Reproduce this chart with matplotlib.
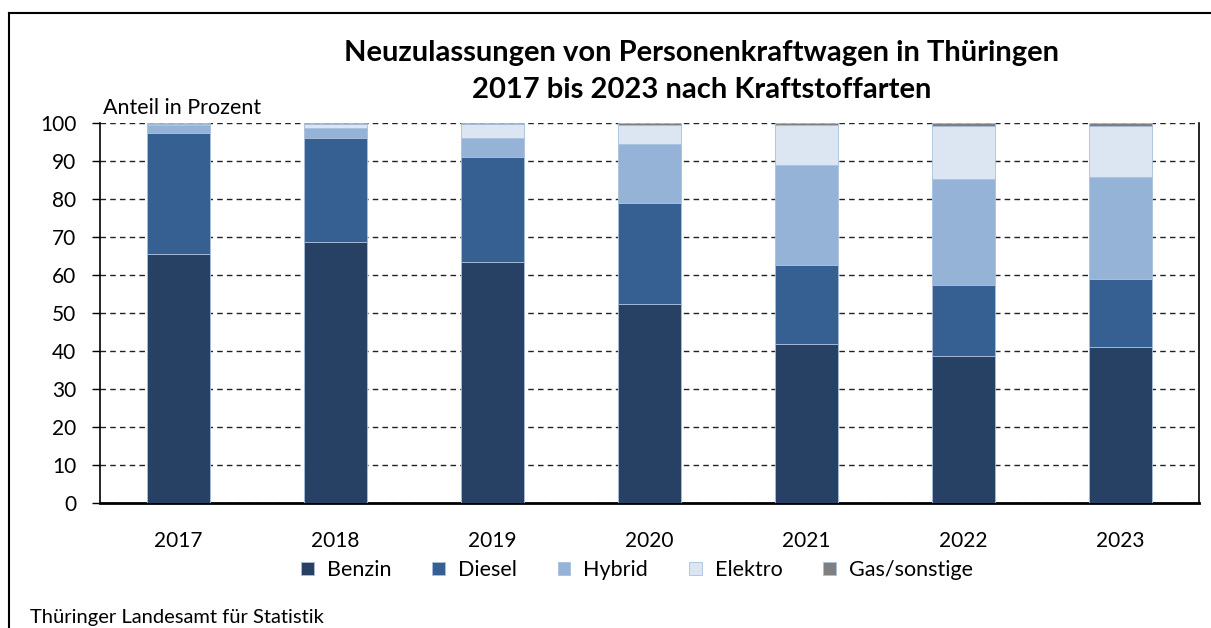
import numpy as np
import matplotlib.pyplot as plt
from matplotlib.lines import Line2D

plt.rcParams['font.family'] = ['Lato', 'DejaVu Sans']

years = ['2017', '2018', '2019', '2020', '2021', '2022', '2023']
benzin = [65.4, 68.8, 63.3, 52.5, 41.8, 38.7, 41.1]
diesel = [32.0, 27.2, 27.8, 26.4, 20.9, 18.7, 17.8]
hybrid = [2.1, 2.8, 5.0, 15.7, 26.2, 27.9, 26.9]
elektro = [0.3, 0.9, 3.6, 5.0, 10.5, 13.8, 13.5]
gas = [0.2, 0.3, 0.3, 0.4, 0.6, 0.9, 0.7]

series = [('Benzin', benzin, '#264163'),
          ('Diesel', diesel, '#366092'),
          ('Hybrid', hybrid, '#95b3d7'),
          ('Elektro', elektro, '#dce6f2'),
          ('Gas/sonstige', gas, '#7f7f7f')]

W, H = 1211, 628
fig = plt.figure(figsize=(W/100, H/100), dpi=100)
ax = fig.add_axes([100/W, (H-503)/H, (1199-100)/W, (503-123)/H])

x = np.arange(len(years))
bottom = np.zeros(len(years))
for name, vals, col in series:
    ax.bar(x, vals, 0.4, bottom=bottom, color=col, edgecolor='#a9bfdc',
           linewidth=0.6, label=name, zorder=3)
    bottom += np.array(vals)

ax.set_xlim(-0.5, 6.5)
ax.set_ylim(0, 100)
ax.set_yticks(range(0, 101, 10))
ax.set_xticks(x)
ax.set_xticklabels(years)
ax.tick_params(axis='x', length=0, pad=20, labelsize=15)
ax.tick_params(axis='y', direction='out', length=6, width=1, labelsize=15, pad=11)
ax.yaxis.grid(True, linestyle=(0, (4, 3)), color='#222222', linewidth=1, zorder=0)
ax.spines['top'].set_visible(False)
for s in ['left', 'right']:
    ax.spines[s].set_linewidth(1.2)
ax.spines['bottom'].set_linewidth(2)

fig.text(702/W, 1-53/H, 'Neuzulassungen von Personenkraftwagen in Thüringen',
         ha='center', va='center', fontsize=21, fontweight='bold')
fig.text(702/W, 1-90/H, '2017 bis 2023 nach Kraftstoffarten',
         ha='center', va='center', fontsize=21, fontweight='bold')
fig.text(103/W, 1-108/H, 'Anteil in Prozent', ha='left', va='center', fontsize=15.5)

leg = fig.legend(loc='center', bbox_to_anchor=(637/W, 1-570/H), ncol=5,
                 frameon=False, fontsize=15.5, handlelength=0.6, handleheight=0.6,
                 columnspacing=1.9, handletextpad=0.6)

fig.text(30/W, 1-618/H, 'Thüringer Landesamt für Statistik', ha='left',
         va='center', fontsize=14.5)

fig.add_artist(Line2D([9/W, 9/W], [1-13/H, 0], color='black', linewidth=1.5))
fig.add_artist(Line2D([9/W, 1], [1-13/H, 1-13/H], color='black', linewidth=1.5))

fig.savefig('out.png', dpi=100)
